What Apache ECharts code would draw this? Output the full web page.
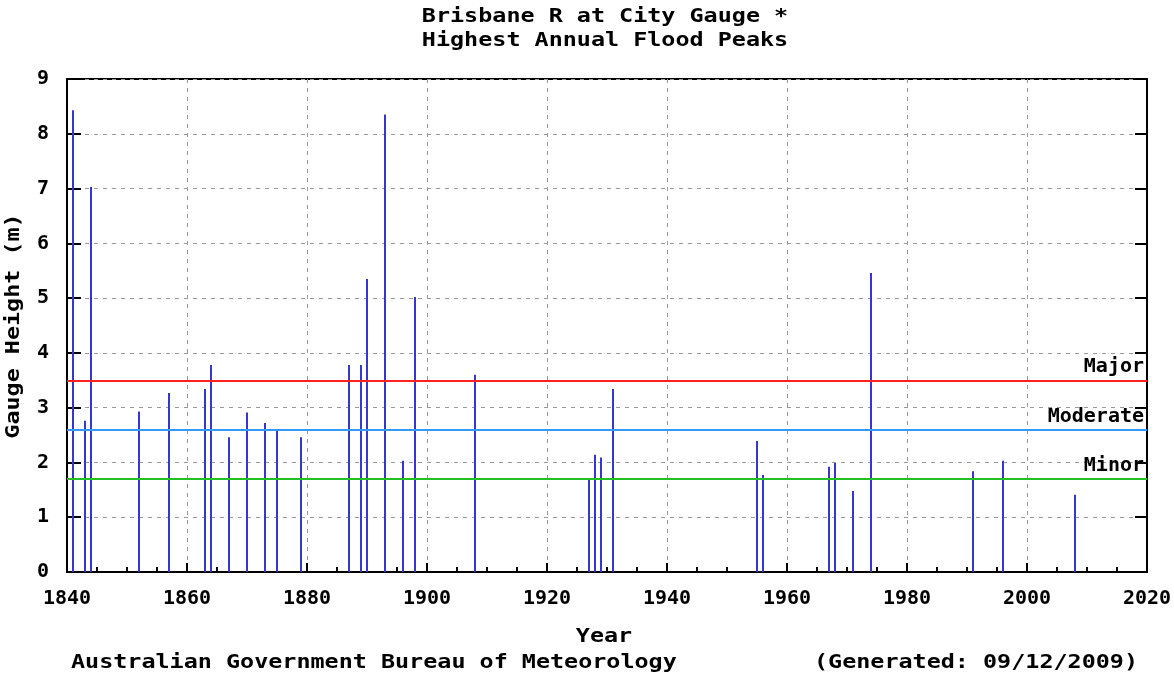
<!DOCTYPE html>
<html lang="en">
<head>
    <meta charset="UTF-8">
    <title>Brisbane R at City Gauge</title>
    <script src="https://cdn.jsdelivr.net/npm/echarts@6/dist/echarts.min.js"></script>
    <style>
        html, body { margin: 0; padding: 0; background: #fff; }
    </style>
</head>
<body>
<div id="main" style="width: 1174px;height:675px;"></div>
<script>
    // flood peak data (year, gauge height in m)
    var years = [1841, 1843, 1844, 1852, 1857, 1863, 1864, 1867, 1870, 1873, 1875, 1879,
        1887, 1889, 1890, 1893, 1896, 1898, 1908, 1927, 1928, 1929, 1931,
        1955, 1956, 1967, 1968, 1971, 1974, 1991, 1996, 2008];
    var peaks = [8.43, 2.76, 7.03, 2.93, 3.27, 3.34, 3.78, 2.46, 2.91, 2.72, 2.61, 2.46,
        3.78, 3.78, 5.35, 8.35, 2.03, 5.02, 3.60, 1.69, 2.14, 2.09, 3.34,
        2.39, 1.77, 1.92, 1.99, 1.48, 5.46, 1.84, 2.03, 1.41];

    var levelNames = ['Major', 'Moderate', 'Minor'];
    var levelValues = [3.5, 2.6, 1.7];
    var levelColors = ['#ff2020', '#3399ff', '#22c022'];

    var font = 'DejaVu Sans Mono';
    var wide = 1.17;   // the original font is wider than any installed mono font

    var barData = [];
    for (var i = 0; i < years.length; i++) {
        barData.push([years[i], peaks[i]]);
    }
    var levelLines = [];
    for (var j = 0; j < levelNames.length; j++) {
        levelLines.push({
            yAxis: levelValues[j],
            lineStyle: { color: levelColors[j], width: 2, type: 'solid' },
            label: { formatter: levelNames[j] }
        });
    }

    function txt(str, x, y, align, rot) {
        return {
            type: 'text', x: x, y: y, rotation: rot || 0, scaleX: wide,
            style: {
                text: str, x: 0, y: 0, align: align, verticalAlign: 'middle',
                font: 'bold 20px "' + font + '"', fill: '#000'
            }
        };
    }

    var myChart = echarts.init(document.getElementById('main'));
    var gridLine = { show: true, lineStyle: { color: '#999', width: 1, type: [4, 5] } };

    var option = {
        animation: false,
        backgroundColor: '#fff',
        textStyle: { fontFamily: font },
        grid: {
            left: 67, right: 27, top: 79, bottom: 103,
            containLabel: false, outerBoundsMode: 'none',
            show: true, borderColor: '#000', borderWidth: 2
        },
        graphic: [
            txt('Brisbane R at City Gauge *', 605, 17, 'center'),
            txt('Highest Annual Flood Peaks', 605, 41, 'center'),
            txt('Gauge Height (m)', 14, 326, 'center', Math.PI / 2),
            txt('Year', 604, 637, 'center'),
            txt('Australian Government Bureau of Meteorology', 71, 663, 'left'),
            txt('(Generated: 09/12/2009)', 1138, 663, 'right')
        ],
        xAxis: {
            type: 'value', min: 1840, max: 2020, interval: 20,
            axisLine: { lineStyle: { color: '#000', width: 2 } },
            axisTick: { inside: true, length: 9, lineStyle: { color: '#000', width: 2 } },
            minorTick: { show: true, splitNumber: 4, length: 5, lineStyle: { color: '#000', width: 2 } },
            axisLabel: {
                color: '#000', fontWeight: 'bold', fontSize: 20, fontFamily: font, margin: 17,
                formatter: function (v) { return String(v); }
            },
            splitLine: gridLine
        },
        yAxis: [{
            type: 'value', min: 0, max: 9, interval: 1,
            axisLine: { show: true, lineStyle: { color: '#000', width: 2 } },
            axisTick: { show: true, inside: true, length: 14, lineStyle: { color: '#000', width: 2 } },
            axisLabel: { color: '#000', fontWeight: 'bold', fontSize: 20, fontFamily: font, margin: 18 },
            splitLine: gridLine
        }, {
            type: 'value', min: 0, max: 9, interval: 1, position: 'right',
            axisLine: { show: true, lineStyle: { color: '#000', width: 2 } },
            axisTick: { show: true, inside: true, length: 12, lineStyle: { color: '#000', width: 2 } },
            axisLabel: { show: false },
            splitLine: { show: false }
        }],
        series: [{
            type: 'bar',
            data: barData,
            barWidth: 2,
            itemStyle: { color: '#3636d2' },
            markLine: {
                silent: true,
                symbol: 'none',
                label: {
                    position: 'insideEndTop', distance: [3, 3], color: '#000',
                    fontWeight: 'bold', fontSize: 20, fontFamily: font
                },
                data: levelLines
            }
        }]
    };

    myChart.setOption(option);
</script>
</body>
</html>
